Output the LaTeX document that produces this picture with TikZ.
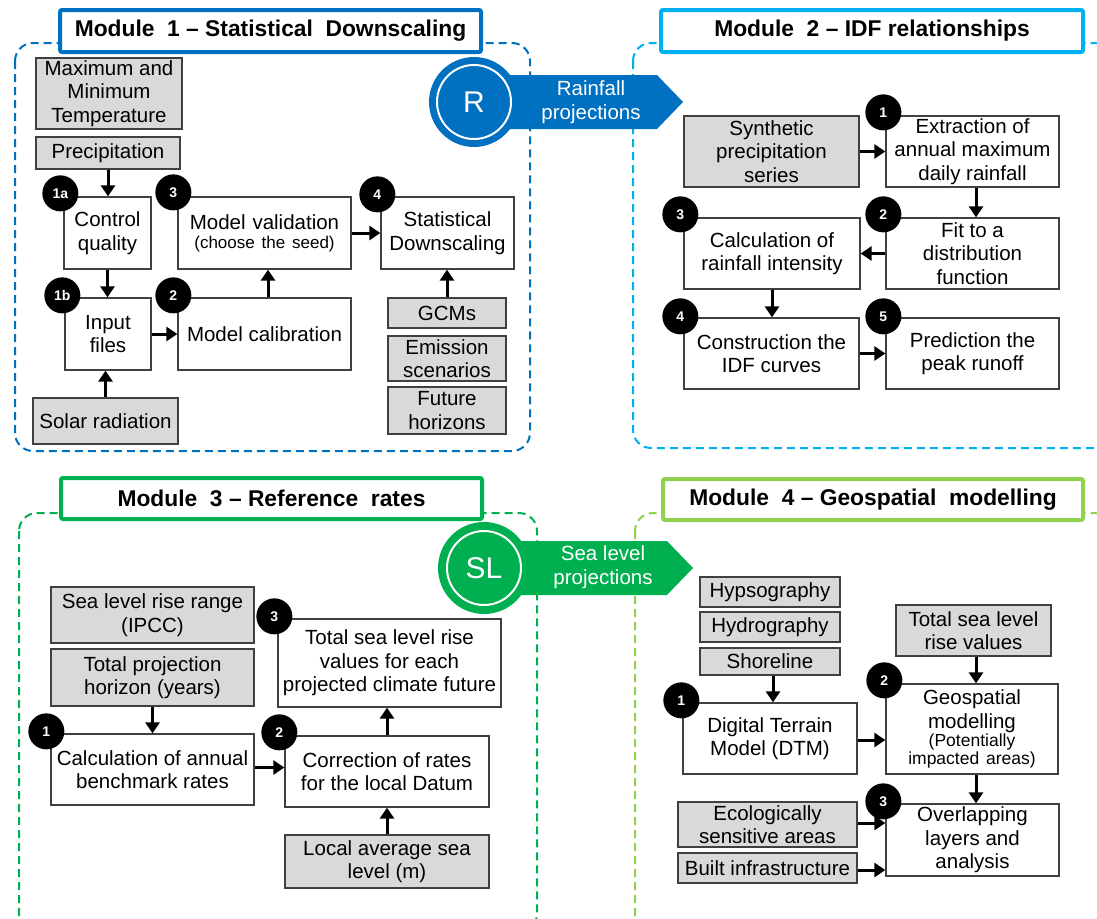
\documentclass[tikz,border=0pt]{standalone}
\usepackage{fontspec}
\setmainfont{Liberation Sans}
\usetikzlibrary{arrows.meta}

\definecolor{mblue}{HTML}{0070C0}
\definecolor{mcyan}{HTML}{00B0F0}
\definecolor{mgreen}{HTML}{00B050}
\definecolor{mlime}{HTML}{92D050}
\definecolor{boxgray}{HTML}{D9D9D9}
\definecolor{edge}{HTML}{404040}

\tikzset{
  base/.style={draw=edge, line width=1.3pt, align=center, inner sep=2pt,
    font=\fontsize{20.5}{23.5}\selectfont},
  wbox/.style={base, fill=white},
  gbox/.style={base, fill=boxgray},
  sz/.style 2 args={minimum width=#1, minimum height=#2},
  badge/.style={circle, fill=black, text=white, minimum size=36pt, inner sep=0pt,
    font=\fontsize{14}{14}\selectfont\bfseries},
  flow/.style={line width=3pt, -{Triangle[length=11pt,width=14pt]}},
  titlebox/.style={fill=white, line width=4pt, rounded corners=2pt, inner sep=0pt,
    font=\fontsize{22.8}{26}\selectfont\bfseries},
  frame/.style={dash pattern=on 8pt off 5pt, line width=2pt, rounded corners=18pt},
  ring/.style={draw=white, line width=2pt},
  bantext/.style={text=white, align=center, font=\fontsize{20.5}{23.5}\selectfont},
  bigletter/.style={text=white, font=\fontsize{30}{30}\selectfont},
}

\begin{document}
\begin{tikzpicture}[x=1pt, y=-1pt]
\useasboundingbox (0,0) rectangle (1097,918);
\clip (0,0) rectangle (1097,918);

% ---------- dashed module frames ----------
\draw[frame, mblue]  (15,43)  rectangle (530,451);
\draw[frame, mcyan]  (633,43) rectangle (1112,448);
\draw[frame, mgreen] (19,513) rectangle (537,932);
\draw[frame, mlime]  (635,513) rectangle (1112,932);

% ---------- module titles ----------
\node[titlebox, draw=mblue,  sz={421}{42}] (t1) at (270.5,31)  {Module~ 1 -- Statistical~ Downscaling};
\node[titlebox, draw=mcyan,  sz={422}{42}] (t2) at (872,31)    {Module~ 2 -- IDF relationships};
\node[titlebox, draw=mgreen, sz={421}{41}] (t3) at (271.5,498.5) {Module~ 3 -- Reference~ rates};
\node[titlebox, draw=mlime,  sz={420}{41}] (t4) at (873,499.5) {Module~ 4 -- Geospatial~ modelling};

% ---------- rainfall projections banner ----------
\fill[mblue] (474,75) -- (657,75) -- (683,102) -- (657,129) -- (474,129) -- cycle;
\fill[mblue] (474,102) circle[radius=45];
\draw[ring] (474,102) circle[radius=37];
\node[bigletter] (rlet) at (474,102) {R};
\node[bantext] (rtxt) at (591,102) {Rainfall\\projections};

% ---------- sea level projections banner ----------
\fill[mgreen] (484,541) -- (667,541) -- (693,568) -- (667,595) -- (484,595) -- cycle;
\fill[mgreen] (484,568) circle[radius=46];
\draw[ring] (484,568) circle[radius=37];
\node[bigletter] (slet) at (484,568) {SL};
\node[bantext] (stxt) at (603,567) {Sea level\\projections};

% ---------- module 1: statistical downscaling ----------
\node[gbox, sz={146}{71}] (maxmin) at (109,93.5) {Maximum and\\Minimum\\Temperature};
\node[gbox, sz={144}{32}] (precip) at (108,153) {Precipitation};
\node[wbox, sz={87}{72}]  (cq)     at (107.5,233) {Control\\quality};
\node[wbox, sz={173}{72}, text width=165pt] (mval) at (264.5,233)
  {Model validation\par{\fontsize{17}{19}\selectfont(choose the seed)\par}};
\node[wbox, sz={133}{72}] (sd)     at (447.5,233) {Statistical\\Downscaling};
\node[wbox, sz={86}{72}]  (inp)    at (108,334) {Input\\files};
\node[wbox, sz={173}{72}] (mcal)   at (264.5,334) {Model calibration};
\node[gbox, sz={145}{46}] (solar)  at (105.5,421) {Solar radiation};
\node[gbox, sz={118}{30}] (gcm)    at (447,313) {GCMs};
\node[gbox, sz={118}{45}] (emis)   at (447,358.5) {Emission\\scenarios};
\node[gbox, sz={118}{47}] (fut)    at (447,410.5) {Future\\horizons};

\draw[flow] (precip.south) -- (precip.south |- cq.north);
\draw[flow] (cq.south) -- (cq.south |- inp.north);
\draw[flow] (solar.north) -- (solar.north |- inp.south);
\draw[flow] (inp.east) -- (mcal.west);
\draw[flow] ([xshift=3.5pt]mcal.north) -- ([xshift=3.5pt]mval.south);
\draw[flow] (mval.east) -- (sd.west);
\draw[flow] (gcm.north) -- (gcm.north |- sd.south);

\node[badge] (b1a) at ([shift={(-3,-3)}]cq.north west) {1a};
\node[badge] (b1b) at ([shift={(-2,-2)}]inp.north west) {1b};
\node[badge] (m1b2) at ([shift={(-4,-2)}]mcal.north west) {2};
\node[badge] (m1b3) at ([shift={(-4,-4)}]mval.north west) {3};
\node[badge] (m1b4) at ([shift={(-3,-2)}]sd.north west) {4};

% ---------- module 2: IDF relationships ----------
\node[gbox, sz={175}{71}] (syn)  at (771.5,151.5) {Synthetic\\precipitation\\series};
\node[wbox, sz={173}{71}] (ext)  at (972.5,151.5) {Extraction of\\annual maximum\\daily rainfall};
\node[wbox, sz={173}{71}] (fit)  at (972.5,253.5) {Fit to a\\distribution\\function};
\node[wbox, sz={176}{71}] (calc) at (772,253.5) {Calculation of\\rainfall intensity};
\node[wbox, sz={175}{71}] (cons) at (771.5,353.5) {Construction the\\IDF curves};
\node[wbox, sz={173}{71}] (pred) at (972.5,353.5) {Prediction the\\peak runoff};

\draw[flow] (syn.east) -- (ext.west);
\draw[flow] ([xshift=3.5pt]ext.south) -- ([xshift=3.5pt]fit.north);
\draw[flow] (fit.west) -- (calc.east);
\draw[flow] (calc.south) -- (calc.south |- cons.north);
\draw[flow] (cons.east) -- (pred.west);

\node[badge] (m2b1) at ([shift={(-2,-3)}]ext.north west) {1};
\node[badge] (m2b2) at ([shift={(-2,-3)}]fit.north west) {2};
\node[badge] (m2b3) at ([shift={(-3,-3)}]calc.north west) {3};
\node[badge] (m2b4) at ([shift={(-3,-1)}]cons.north west) {4};
\node[badge] (m2b5) at ([shift={(-2,-1)}]pred.north west) {5};

% ---------- module 3: reference rates ----------
\node[gbox, sz={203}{56}] (slr) at (152.5,615) {Sea level rise range\\(IPCC)};
\node[gbox, sz={203}{57}] (tph) at (152.5,677.5) {Total projection\\horizon (years)};
\node[wbox, sz={203}{71}] (cab) at (152.5,769.5) {Calculation of annual\\benchmark rates};
\node[wbox, sz={204}{71}] (cor) at (387,771.5) {Correction of rates\\for the local Datum};
\node[wbox, sz={223}{88}] (tot) at (389.5,663) {Total sea level rise\\values for each\\projected climate future};
\node[gbox, sz={204}{53}] (loc) at (387,861.5) {Local average sea\\level (m)};

\draw[flow] (tph.south) -- (tph.south |- cab.north);
\draw[flow] ([yshift=2pt]cab.east) -- ([yshift=2pt]cab.east -| cor.west);
\draw[flow] (cor.north) -- (cor.north |- tot.south);
\draw[flow] (loc.north) -- (cor.south);

\node[badge] (m3b1) at ([shift={(-4,-2)}]cab.north west) {1};
\node[badge] (m3b2) at ([shift={(-5,-3)}]cor.north west) {2};
\node[badge] (m3b3) at ([shift={(-3,-2)}]tot.north west) {3};

% ---------- module 4: geospatial modelling ----------
\node[gbox, sz={140}{30}] (hyp)  at (770,592) {Hypsography};
\node[gbox, sz={140}{30}] (hyd)  at (770,627) {Hydrography};
\node[gbox, sz={140}{27}] (sho)  at (770,661.5) {Shoreline};
\node[wbox, sz={174}{71}] (dtm)  at (770,738.5) {Digital Terrain\\Model (DTM)};
\node[gbox, sz={155}{51}] (tslr) at (973.5,630.5) {Total sea level\\rise values};
\node[wbox, sz={172}{90}, text width=166pt] (geo) at (972,729)
  {Geospatial\\modelling\par{\fontsize{17.5}{18}\selectfont(Potentially\\impacted areas)\par}};
\node[wbox, sz={173}{72}] (ovl)  at (972.5,840) {Overlapping\\layers and\\analysis};
\node[gbox, sz={179}{45}] (eco)  at (767.5,824.5) {Ecologically\\sensitive areas};
\node[gbox, sz={179}{30}] (bui)  at (767.5,868) {Built infrastructure};

\draw[flow] ([xshift=3pt]sho.south) -- ([xshift=3pt]sho.south |- dtm.north);
\draw[flow] ([yshift=-1.5pt]dtm.east) -- ([yshift=-1.5pt]dtm.east -| geo.west);
\draw[flow] ([xshift=2.5pt]tslr.south) -- ([xshift=2.5pt]tslr.south |- geo.north);
\draw[flow] ([xshift=4pt]geo.south) -- ([xshift=4pt]geo.south |- ovl.north);
\draw[flow] ([yshift=1.5pt]eco.east) -- ([yshift=1.5pt]eco.east -| ovl.west);
\draw[flow] ([yshift=-2pt]bui.east) -- ([yshift=-2pt]bui.east -| ovl.west);

\node[badge] (m4b1) at ([shift={(-1,-2)}]dtm.north west) {1};
\node[badge] (m4b2) at ([shift={(-1,-3)}]geo.north west) {2};
\node[badge] (m4b3) at ([shift={(-2,-2)}]ovl.north west) {3};
\end{tikzpicture}
\end{document}
